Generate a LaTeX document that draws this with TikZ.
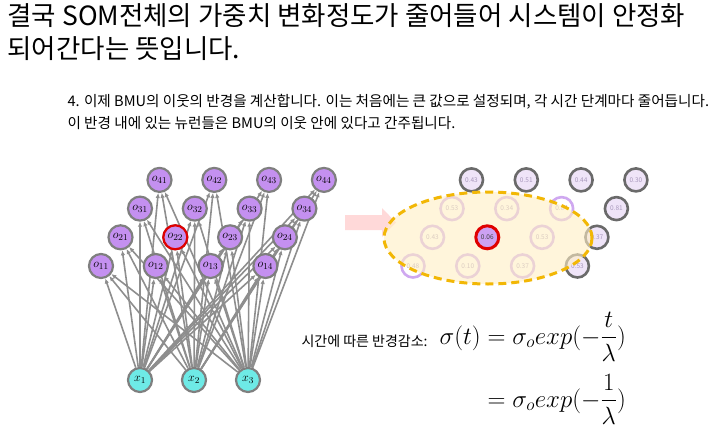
\documentclass[tikz,border=0pt]{standalone}
\usepackage[no-math]{fontspec}
\setmainfont{Noto Sans CJK KR}
\usepackage{amsmath}
\usetikzlibrary{arrows.meta, backgrounds}
\definecolor{somviolet}{HTML}{C490F0}
\definecolor{somcyan}{HTML}{6EEAE6}
\definecolor{ringgray}{HTML}{7F7F7F}
\definecolor{linkgray}{HTML}{8E8E8E}
\definecolor{bmured}{HTML}{E00000}
\definecolor{zoneorange}{HTML}{F2B705}
\definecolor{zonefill}{HTML}{FFEFC4}
\definecolor{arrowpink}{HTML}{FFD9D9}
\definecolor{farring}{HTML}{6A6A6A}
\definecolor{farfill}{HTML}{EFE4F8}
\definecolor{nearring}{HTML}{CFA8F0}
\definecolor{cellnum}{HTML}{A898BC}

\begin{document}
\begin{tikzpicture}[x=1pt, y=-1pt,
  neuron/.style={circle, draw=ringgray, line width=2.2pt, fill=somviolet,
    minimum size=24pt, inner sep=0pt, font=\fontsize{13}{15}\selectfont},
  inputnode/.style={neuron, fill=somcyan},
  link/.style={draw=linkgray, line width=1.6pt, -{Latex[length=5pt,width=4.5pt]}},
  far/.style={circle, draw=farring, line width=2.6pt, fill=farfill,
    minimum size=23pt, inner sep=0pt, font=\fontsize{6.5}{7}\selectfont, text=cellnum},
  near/.style={far, draw=nearring, fill=white},
]
\useasboundingbox (0,0) rectangle (718,434);

% heading
\node[anchor=north west, align=left, font=\fontsize{26.5}{33}\selectfont] (title) at (4,0)
  {결국 SOM전체의 가중치 변화정도가 줄어들어 시스템이 안정화\\되어간다는 뜻입니다.};
\node[anchor=north west, align=left, font=\fontsize{14.6}{22}\selectfont] (step4) at (64,91)
  {4. 이제 BMU의 이웃의 반경을 계산합니다. 이는 처음에는 큰 값으로 설정되며, 각 시간 단계마다 줄어듭니다.\\이 반경 내에 있는 뉴런들은 BMU의 이웃 안에 있다고 간주됩니다.};

% output layer (left)
\foreach \r in {1,...,4} {
  \foreach \c in {1,...,4} {
    \node[neuron] (o\r\c) at ({101+54.8*(\c-1)+19.5*(\r-1)}, {266-28.7*(\r-1)}) {$o_{\r\c}$};
  }
}
\node[neuron, draw=bmured] at (o22) {$o_{22}$};

% inputs
\node[inputnode] (x1) at (140,380) {$x_1$};
\node[inputnode] (x2) at (194,380) {$x_2$};
\node[inputnode] (x3) at (248,380) {$x_3$};

\begin{scope}[on background layer]
\fill[white] (0,0) rectangle (718,434);
\foreach \i in {1,2,3} {
  \foreach \r in {1,...,4} {
    \foreach \c in {1,...,4} {
      \draw[link] (x\i) -- (o\r\c);
    }
  }
}
\end{scope}

% map with neighbourhood (right)
\fill[arrowpink] (345,215) -- (382,215) -- (382,208) -- (396,222.5) -- (382,237)
  -- (382,230) -- (345,230) -- cycle;

\foreach \r/\c/\v/\s in {4/1/0.43/far, 4/2/0.51/far, 4/3/0.44/far, 4/4/0.30/far,
    3/1/0.53/near, 3/2/0.34/near, 3/3/0.84/near, 3/4/0.81/far,
    2/1/0.43/near, 2/3/0.53/near, 2/4/0.37/far,
    1/1/0.48/near, 1/2/0.10/near, 1/3/0.37/near, 1/4/0.53/far} {
  \node[\s] (g\r\c) at ({413+54.8*(\c-1)+19.5*(\r-1)}, {266-28.7*(\r-1)}) {\v};
}

\path[fill=zonefill, fill opacity=0.6, draw=zoneorange, line width=3pt,
  dash pattern=on 8pt off 5pt] (488,238) ellipse [x radius=104pt, y radius=46pt];

\node[far, draw=bmured, line width=3pt, fill=somviolet!85, text=black!75] (g22)
  at ({413+54.8+19.5}, {266-28.7}) {0.06};

% radius decay
\node[anchor=base west, font=\fontsize{14}{16}\selectfont] (decay) at (298,346) {시간에 따른 반경감소:};
\node[anchor=west, font=\fontsize{25}{28}\selectfont] (eq) at (436,368)
  {$\begin{aligned}\sigma(t) &= \sigma_o exp(-\dfrac{t}{\lambda})\\[9pt]
    &= \sigma_o exp(-\dfrac{1}{\lambda})\end{aligned}$};
\end{tikzpicture}
\end{document}
